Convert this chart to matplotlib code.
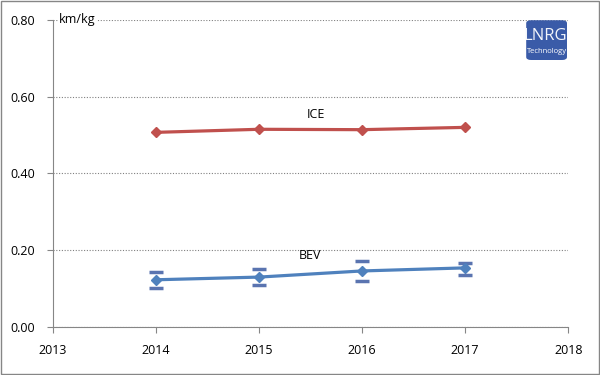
import matplotlib.pyplot as plt
from matplotlib.patches import FancyBboxPatch, Rectangle

plt.rcParams['font.family'] = ['Open Sans', 'DejaVu Sans']

years = [2014, 2015, 2016, 2017]
ice = [0.507, 0.515, 0.514, 0.520]
bev = [0.123, 0.130, 0.146, 0.154]
bev_hi = [0.143, 0.150, 0.172, 0.168]
bev_lo = [0.102, 0.109, 0.120, 0.135]

fig = plt.figure(figsize=(6, 3.75), dpi=100)
ax = fig.add_axes([0.088, 0.128, 0.859, 0.819])

ax.plot(years, ice, '-D', color='#c0504d', lw=2.3, ms=5.5, zorder=3)
ax.plot(years, bev, '-D', color='#4f81bd', lw=2.3, ms=5.5, zorder=3)
err = [[b - l for b, l in zip(bev, bev_lo)], [h - b for b, h in zip(bev, bev_hi)]]
ax.errorbar(years, bev, yerr=err, fmt='none', ecolor='#5a74b0', elinewidth=0,
            capsize=5, capthick=2.5, zorder=2)

ax.text(2015.55, 0.553, 'ICE', fontsize=9, ha='center', va='center')
ax.text(2015.5, 0.185, 'BEV', fontsize=9, ha='center', va='center')

ax.set_xlim(2013, 2018)
ax.set_ylim(0, 0.8)
ax.set_xticks(range(2013, 2019))
ax.set_yticks([0, 0.2, 0.4, 0.6, 0.8])
ax.set_yticklabels(['0.00', '0.20', '0.40', '0.60', '0.80'])
ax.tick_params(labelsize=9, color='#868686', length=4)
ax.tick_params(axis='x', pad=8)
ax.tick_params(axis='y', pad=9)
ax.grid(axis='y', ls=(0, (1, 1.5)), color='#808080', lw=0.8)
ax.set_axisbelow(True)
for s in ['top', 'right']:
    ax.spines[s].set_visible(False)
for s in ['left', 'bottom']:
    ax.spines[s].set_color('#868686')

ax.text(0.012, 1.0, 'km/kg', transform=ax.transAxes, fontsize=9, va='center', ha='left',
        bbox=dict(fc='white', ec='none', pad=1))

# logo
fig.patches.append(FancyBboxPatch((0.877, 0.84), 0.068, 0.106, boxstyle='round,pad=0,rounding_size=0.008',
                                  transform=fig.transFigure, fc='#3a5ba8', ec='none'))
fig.text(0.909, 0.905, 'LNRG', color='#f2f5fb', fontsize=12, ha='center', va='center')
fig.text(0.912, 0.862, 'Technology', color='white', fontsize=5.5, ha='center', va='center')

fig.patches.append(Rectangle((0.001, 0.002), 0.997, 0.995, transform=fig.transFigure,
                             fill=False, ec='#868686', lw=1))

fig.savefig('out.png')
